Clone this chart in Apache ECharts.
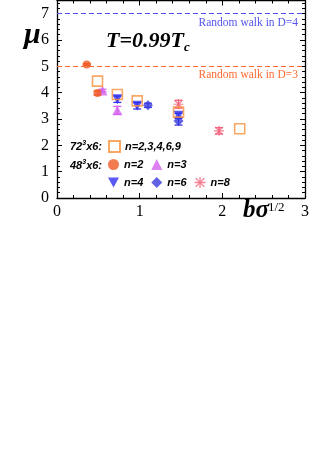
<!DOCTYPE html>
<html><head><meta charset="utf-8">
<script src="https://cdn.jsdelivr.net/npm/echarts@6/dist/echarts.min.js"></script>
<style>html,body{margin:0;padding:0;background:#fff}#c{width:312px;height:468px}</style>
</head><body><div id="c"></div>
<script>
// tick labels
var xTicks = [0, 1, 2, 3];
var yTicks = [0, 1, 2, 3, 4, 5, 6, 7];
// reference lines
var refLevels = [7, 5];
var refLabels = ['Random walk in D=4', 'Random walk in D=3'];
// 72^3x6 data: [b*sqrt(sigma), mu]
var lat72 = [[0.49, 4.44], [0.73, 3.93], [0.97, 3.69], [1.47, 3.26], [2.21, 2.63]];
// 48^3x6 data: [b*sqrt(sigma), mu, error]
var n2 = [[0.36, 5.07, 0.03], [0.49, 3.99, 0.08]];
var n3 = [[0.55, 4.08, 0.05], [0.73, 3.33, 0.15]];
var n4 = [[0.73, 3.75, 0.12], [0.97, 3.50, 0.12], [1.47, 3.12, 0.10]];
var n6 = [[1.10, 3.52, 0.08], [1.47, 2.92, 0.15]];
var n8 = [[1.47, 3.56, 0.15], [1.96, 2.55, 0.12]];

var SERIF = 'Liberation Serif';
var SANS = 'Liberation Sans';
var cOrange = '#f7913f', cRed = '#f05a24', cMag = '#d562f0', cBlue = '#3030f0', cBlue2 = '#3a3ae0', cPink = '#f4607a';

var downTri = 'path://M0,0 L10,0 L5,9 Z';
var star = 'path://M4.4,0 L5.6,0 L5.6,3.6 L8.5,0.7 L9.3,1.5 L6.4,4.4 L10,4.4 L10,5.6 L6.4,5.6 L9.3,8.5 L8.5,9.3 L5.6,6.4 L5.6,10 L4.4,10 L4.4,6.4 L1.5,9.3 L0.7,8.5 L3.6,5.6 L0,5.6 L0,4.4 L3.6,4.4 L0.7,1.5 L1.5,0.7 L4.4,3.6 Z';

function errSeries(name, data, color) {
  return {
    type: 'custom', name: name, data: data, z: 3,
    encode: {x: 0, y: [1]},
    renderItem: function (params, api) {
      var x = api.value(0), y = api.value(1), e = api.value(2);
      var hi = api.coord([x, y + e]), lo = api.coord([x, y - e]);
      var w = 4;
      var st = {stroke: color, lineWidth: 1.3};
      return {type: 'group', children: [
        {type: 'line', shape: {x1: hi[0], y1: hi[1], x2: lo[0], y2: lo[1]}, style: st},
        {type: 'line', shape: {x1: hi[0] - w, y1: hi[1], x2: hi[0] + w, y2: hi[1]}, style: st},
        {type: 'line', shape: {x1: lo[0] - w, y1: lo[1], x2: lo[0] + w, y2: lo[1]}, style: st}
      ]};
    }
  };
}

var refSeries = {
  type: 'line', name: 'ref', data: [], silent: true,
  markLine: {
    symbol: 'none', silent: true,
    data: refLevels.map(function (v, i) {
      var col = i === 0 ? '#5555ee' : '#ff6a33';
      return {yAxis: v, lineStyle: {color: col, type: [5, 3], width: 1},
        label: {show: true, position: 'insideEndBottom', formatter: refLabels[i],
          color: col, fontFamily: SERIF, fontSize: 11.5, distance: [7, 3]}};
    })
  }
};

var legendText = {fontFamily: SANS, fontSize: 11, fontStyle: 'italic', fontWeight: 'bold', color: '#000', width: 22};
function mkLegend(data, top, gap) {
  return {data: data, left: 108, top: top, orient: 'horizontal', itemWidth: 11, itemHeight: 11,
    itemGap: gap, textStyle: legendText, selectedMode: false, padding: 0};
}

var axisLine = {show: true, onZero: false, lineStyle: {color: '#000', width: 1.3}};
function tickCfg() { return {inside: true, length: 5, lineStyle: {color: '#000'}}; }
function minorCfg() { return {show: true, splitNumber: 5, length: 3, lineStyle: {color: '#000'}}; }
var option = {
  animation: false,
  backgroundColor: '#fff',
  grid: {left: 57, right: 5, top: 0.5, height: 197.5},
  xAxis: [
    {type: 'value', min: 0, max: 3, interval: 1, axisLine: axisLine,
      axisTick: tickCfg(), minorTick: minorCfg(), splitLine: {show: false},
      axisLabel: {fontFamily: SERIF, fontSize: 16, color: '#000', margin: 6,
        formatter: function (v) { return xTicks.indexOf(v) >= 0 ? String(v) : ''; }}},
    {type: 'value', position: 'top', min: 0, max: 3, interval: 1, axisLine: axisLine,
      axisTick: tickCfg(), minorTick: minorCfg(), splitLine: {show: false}, axisLabel: {show: false}}
  ],
  yAxis: [
    {type: 'value', min: 0, max: 7.5, interval: 1, axisLine: axisLine,
      axisTick: tickCfg(), minorTick: minorCfg(), splitLine: {show: false},
      axisLabel: {fontFamily: SERIF, fontSize: 16, color: '#000', margin: 8,
        showMaxLabel: false,
        formatter: function (v) { return yTicks.indexOf(v) >= 0 ? String(v) : ''; }}},
    {type: 'value', position: 'right', min: 0, max: 7.5, interval: 1, axisLine: axisLine,
      axisTick: tickCfg(), minorTick: minorCfg(), splitLine: {show: false}, axisLabel: {show: false}}
  ],
  legend: [
    mkLegend(['n=2,3,4,6,9'], 140, 7),
    mkLegend(['n=2', 'n=3'], 159, 8),
    mkLegend(['n=4', 'n=6', 'n=8'], 177, 8)
  ],
  graphic: [
    {type: 'text', left: 24, top: 20, style: {text: 'μ', font: 'bold italic 30px ' + SERIF, fill: '#000'}},
    {type: 'text', left: 243, top: 198, style: {text: 'bσ', font: 'bold italic 25px ' + SERIF, fill: '#000'}},
    {type: 'text', left: 268, top: 201, style: {text: '1/2', font: '13px ' + SERIF, fill: '#000'}},
    {type: 'text', left: 106, top: 30, style: {
      rich: {a: {font: 'bold italic 22px ' + SERIF, fill: '#000'},
             b: {font: 'bold italic 13px ' + SERIF, fill: '#000', padding: [14, 0, 0, 0]}},
      text: '{a|T=0.99T}{b|c}'}},
    {type: 'text', left: 70, top: 140, style: {rich: {t: {font: 'bold italic 11px ' + SANS, fill: '#000'}, s: {font: 'bold italic 7px ' + SANS, fill: '#000', padding: [0, 0, 6, 0]}}, text: '{t|72}{s|3}{t|x6:}'}},
    {type: 'text', left: 70, top: 159, style: {rich: {t: {font: 'bold italic 11px ' + SANS, fill: '#000'}, s: {font: 'bold italic 7px ' + SANS, fill: '#000', padding: [0, 0, 6, 0]}}, text: '{t|48}{s|3}{t|x6:}'}}
  ],
  series: [
    refSeries,
    errSeries('e2', n2, cRed), errSeries('e3', n3, cMag), errSeries('e4', n4, cBlue),
    errSeries('e6', n6, cBlue2), errSeries('e8', n8, cPink),
    {type: 'scatter', name: 'n=8', data: n8, symbol: star, symbolSize: 10, itemStyle: {color: cPink}, z: 4},
    {type: 'scatter', name: 'n=6', data: n6, symbol: 'diamond', symbolSize: 10, itemStyle: {color: cBlue2}, z: 4},
    {type: 'scatter', name: 'n=4', data: n4, symbol: downTri, symbolSize: 10, itemStyle: {color: cBlue}, z: 4},
    {type: 'scatter', name: 'n=3', data: n3, symbol: 'triangle', symbolSize: 10, itemStyle: {color: cMag}, z: 4},
    {type: 'scatter', name: 'n=2', data: n2, symbol: 'circle', symbolSize: 8, itemStyle: {color: cRed}, z: 4},
    {type: 'scatter', name: 'n=2,3,4,6,9', data: lat72, symbol: 'rect', symbolSize: 10,
      itemStyle: {color: 'rgba(255,255,255,0)', borderColor: cOrange, borderWidth: 1.6}, z: 5}
  ]
};
var chart = echarts.init(document.getElementById('c'), null, {renderer: 'canvas'});
chart.setOption(option);
</script>
</body></html>
